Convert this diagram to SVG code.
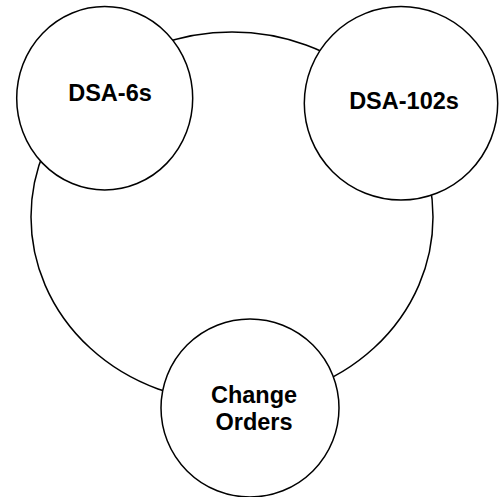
<svg xmlns="http://www.w3.org/2000/svg" width="503" height="497" viewBox="0 0 503 497">
<style>
.shape{fill:#ffffff;stroke:#000000;stroke-width:1.5}
.ring{fill:none;stroke:#000000;stroke-width:1.5}
.lbl{font-family:"Liberation Sans",Arial,sans-serif;font-weight:bold;font-size:23.5px;fill:#000000;text-anchor:middle}
</style>
<rect width="503" height="497" fill="#ffffff"/>
<g id="connectors">
<ellipse class="ring" cx="232" cy="217" rx="201" ry="185"/>
</g>
<g id="node-dsa6s">
<ellipse class="shape" cx="104.7" cy="98.3" rx="88" ry="91.7"/>
<text class="lbl" x="110" y="101">DSA-6s</text>
</g>
<g id="node-dsa102s">
<ellipse class="shape" cx="401" cy="103.3" rx="96.7" ry="96.7"/>
<text class="lbl" x="404" y="109">DSA-102s</text>
</g>
<g id="node-change-orders">
<ellipse class="shape" cx="250" cy="408" rx="89" ry="89"/>
<text class="lbl" x="254" y="403">Change</text>
<text class="lbl" x="254" y="430">Orders</text>
</g>
</svg>
